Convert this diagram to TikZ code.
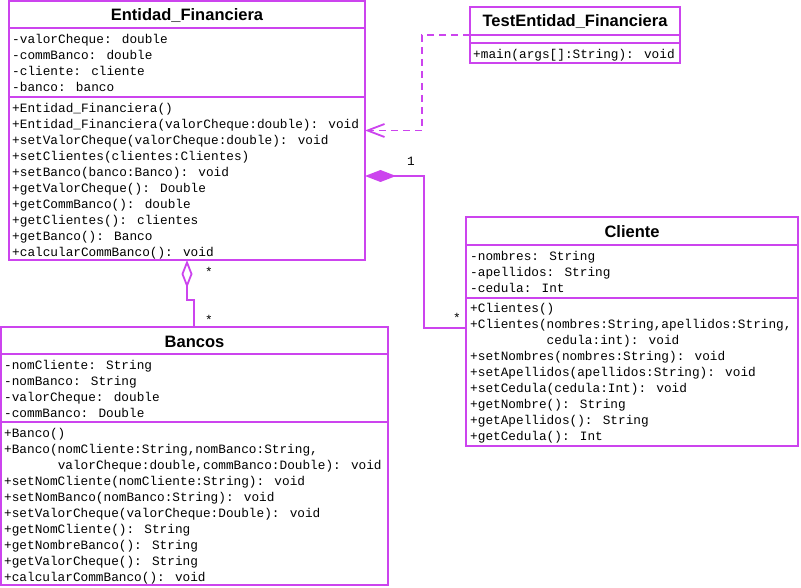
\documentclass[tikz,border=0pt]{standalone}
\usepackage{fontspec}
\setmainfont{Liberation Sans}
\newfontfamily\monof{Liberation Mono}
\usetikzlibrary{arrows.meta,calc}
\definecolor{umlc}{RGB}{204,68,238}
\begin{document}
\begin{tikzpicture}[x=1pt,y=-1pt,
  umlline/.style={draw=umlc,line width=1.8pt},
  classbox/.style={umlline,fill=white,anchor=north west,inner sep=0pt,outer sep=0pt},
  mono/.style={anchor=base west,inner sep=0pt,font=\monof\fontsize{12.75}{16}\selectfont},
  ctitle/.style={anchor=base,inner sep=0pt,font=\bfseries\fontsize{16.5}{19}\selectfont},
  mult/.style={anchor=center,inner sep=0pt,font=\monof\fontsize{12.75}{16}\selectfont}]
\useasboundingbox (0,0) rectangle (801,588);

% ---------- Entidad_Financiera
\node[classbox,minimum width=356pt,minimum height=259pt] (ent) at (9,1) {};
\draw[umlline] (9,28) -- (365,28);
\draw[umlline] (9,97) -- (365,97);
\node[ctitle] (entT) at (187,21) {Entidad\_Financiera};
\foreach \t [count=\i from 0] in {{-valorCheque: double},{-commBanco: double},{-cliente: cliente},{-banco: banco}}
  \node[mono] (entA\i) at (12,43.5+16*\i) {\t};
\foreach \t [count=\i from 0] in {{+Entidad\_Financiera()},{+Entidad\_Financiera(valorCheque:double): void},{+setValorCheque(valorCheque:double): void},{+setClientes(clientes:Clientes)},{+setBanco(banco:Banco): void},{+getValorCheque(): Double},{+getCommBanco(): double},{+getClientes(): clientes},{+getBanco(): Banco},{+calcularCommBanco(): void}}
  \node[mono] (entM\i) at (12,112.5+16*\i) {\t};

% ---------- TestEntidad_Financiera
\node[classbox,minimum width=210pt,minimum height=56pt] (test) at (470,7) {};
\draw[umlline] (470,35) -- (680,35);
\draw[umlline] (470,43) -- (680,43);
\node[ctitle] (testT) at (575,27) {TestEntidad\_Financiera};
\node[mono] (testM) at (473,58.5) {+main(args[]:String): void};

% ---------- Cliente
\node[classbox,minimum width=332pt,minimum height=229pt] (cli) at (466,217) {};
\draw[umlline] (466,245) -- (798,245);
\draw[umlline] (466,298) -- (798,298);
\node[ctitle] (cliT) at (632,238) {Cliente};
\foreach \t [count=\i from 0] in {{-nombres: String},{-apellidos: String},{-cedula: Int}}
  \node[mono] (cliA\i) at (470,260.5+16*\i) {\t};
\foreach \t [count=\i from 0] in {{+Clientes()},{+Clientes(nombres:String,apellidos:String,},{\phantom{xxxxxxxxxx}cedula:int): void},{+setNombres(nombres:String): void},{+setApellidos(apellidos:String): void},{+setCedula(cedula:Int): void},{+getNombre(): String},{+getApellidos(): String},{+getCedula(): Int}}
  \node[mono] (cliM\i) at (470,312.5+16*\i) {\t};

% ---------- Bancos
\node[classbox,minimum width=387pt,minimum height=258pt] (ban) at (1,327) {};
\draw[umlline] (1,354) -- (388,354);
\draw[umlline] (1,422) -- (388,422);
\node[ctitle] (banT) at (194.5,347) {Bancos};
\foreach \t [count=\i from 0] in {{-nomCliente: String},{-nomBanco: String},{-valorCheque: double},{-commBanco: Double}}
  \node[mono] (banA\i) at (4,369.5+16*\i) {\t};
\foreach \t [count=\i from 0] in {{+Banco()},{+Banco(nomCliente:String,nomBanco:String,},{\phantom{xxxxxxx}valorCheque:double,commBanco:Double): void},{+setNomCliente(nomCliente:String): void},{+setNomBanco(nomBanco:String): void},{+setValorCheque(valorCheque:Double): void},{+getNomCliente(): String},{+getNombreBanco(): String},{+getValorCheque(): String},{+calcularCommBanco(): void}}
  \node[mono] (banM\i) at (4,437.5+16*\i) {\t};

% ---------- connectors
% dependency
\draw[umlline,dash pattern=on 7pt off 5pt,-{Straight Barb[length=17pt,width=13pt,line width=1.8pt]}]
  (test.west) -- ++(-48,0) |- (ent.east);
% composition
\coordinate (compS) at ($(ent.north east)+(0,175)$);
\coordinate (compE) at ($(cli.north west)+(0,111)$);
\draw[umlline,{Diamond[length=31pt,width=12pt,fill=umlc]}-]
  (compS) -- ++(59,0) |- (compE);
% aggregation
\coordinate (aggS) at ($(ent.south west)+(178,0)$);
\coordinate (aggE) at ($(ban.north west)+(193,0)$);
\draw[umlline,{Diamond[open,length=28pt,width=11pt]}-]
  (aggS) -- ++(0,40) -| (aggE);

% multiplicities
\node[mult] (m1) at (411,161) {1};
\node[mult] (m2) at (457,318) {*};
\node[mult] (m3) at (209,272) {*};
\node[mult] (m4) at (209,320) {*};
\end{tikzpicture}
\end{document}
